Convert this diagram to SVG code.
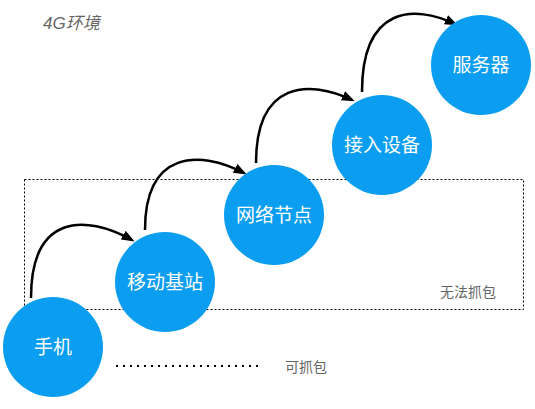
<svg xmlns="http://www.w3.org/2000/svg" width="535" height="409" viewBox="0 0 535 409">
<style>
.node circle{fill:#0A9DF0}
.node text{fill:#fff;font-family:"Liberation Sans","Noto Sans CJK SC",sans-serif;font-size:19px;text-anchor:middle}
.note{fill:#666;font-family:"Liberation Sans","Noto Sans CJK SC",sans-serif;font-size:14px}
.conn path{fill:none;stroke:#000;stroke-width:2.5}
</style>
<defs>
<marker id="ah" markerUnits="userSpaceOnUse" markerWidth="14" markerHeight="12" refX="10" refY="5" orient="auto">
<path d="M0,0 L13,5 L0,10 z" fill="#000"/>
</marker>
</defs>
<rect width="535" height="409" fill="#fff"/>
<text class="note" x="43" y="29" style="font-size:17px;font-style:italic">4G环境</text>
<rect x="24.5" y="179.5" width="499" height="130" fill="none" stroke="#000" stroke-width="1" stroke-dasharray="2 2"/>
<text class="note" x="440" y="297">无法抓包</text>
<line x1="116" y1="366" x2="258" y2="366" stroke="#000" stroke-width="2" stroke-dasharray="2 5"/>
<text class="note" x="285" y="372">可抓包</text>
<g class="conn">
<path d="M31,298 C31,214 85,214 132,240" marker-end="url(#ah)"/>
<path d="M145,230 C145,150 200,150 244,173" marker-end="url(#ah)"/>
<path d="M256,163 C256,80 310,80 352,100" marker-end="url(#ah)"/>
<path d="M362,92 C362,5 415,5 455,24" marker-end="url(#ah)"/>
</g>
<g id="n1" class="node"><circle cx="53" cy="347" r="50"/><text x="53" y="354">手机</text></g>
<g id="n2" class="node"><circle cx="165" cy="282" r="50"/><text x="165" y="289">移动基站</text></g>
<g id="n3" class="node"><circle cx="274" cy="215" r="50"/><text x="274" y="222">网络节点</text></g>
<g id="n4" class="node"><circle cx="382" cy="145" r="50"/><text x="382" y="152">接入设备</text></g>
<g id="n5" class="node"><circle cx="481" cy="65" r="50"/><text x="481" y="72">服务器</text></g>
</svg>
